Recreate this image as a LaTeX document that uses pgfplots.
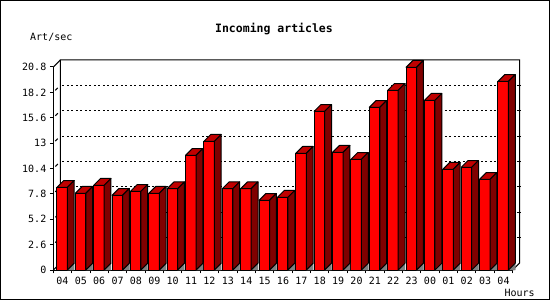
\documentclass[border=0pt]{standalone}
\usepackage{pgfplots}
\pgfplotsset{compat=1.18}
\usepackage{pgfplotstable}
\usepackage{fontspec}
\setmainfont{DejaVu Sans Mono}
\definecolor{barfront}{RGB}{255,0,0}
\definecolor{barside}{RGB}{128,0,0}
\definecolor{bartop}{RGB}{192,0,0}
\definecolor{floorgrey}{RGB}{128,128,128}

\pgfplotstableread{
x y
0 8.47
1 7.86
2 8.68
3 7.65
4 8.06
5 7.86
6 8.33
7 11.75
8 13.19
9 8.33
10 8.33
11 7.14
12 7.45
13 11.96
14 16.26
15 12.06
16 11.34
17 16.67
18 18.41
19 20.77
20 17.39
21 10.32
22 10.52
23 9.29
24 19.33
}\datatable

\begin{document}
\begin{tikzpicture}
\useasboundingbox (0,0) rectangle (550bp,300bp);
\begin{axis}[
  at={(53.3bp,30bp)}, anchor=south west,
  scale only axis, width=459.4bp, height=203bp,
  xmin=-0.5, xmax=24.5, ymin=0, ymax=20.8,
  clip=false,
  axis x line*=bottom, axis y line*=left,
  axis line style={line width=1bp},
  tick align=outside,
  major tick length=3.5bp,
  every tick/.style={black, line width=1bp},
  xtick={-0.5,0.5,...,24.5},
  x tick label as interval,
  xticklabels={04,05,06,07,08,09,10,11,12,13,14,15,16,17,18,19,20,21,22,23,00,01,02,03,04},
  ytick={0,2.6,5.2,7.8,10.4,13,15.6,18.2,20.8},
  yticklabels={0,2.6,5.2,7.8,10.4,13,15.6,18.2,20.8},
  tick label style={font=\fontsize{10bp}{12bp}\selectfont},
]
% back wall and side-wall edges
\coordinate (BL) at ([shift={(7bp,7bp)}]axis cs:-0.5,0);
\coordinate (TL) at ([shift={(7bp,7bp)}]axis cs:-0.5,20.8);
\coordinate (TR) at ([shift={(7bp,7bp)}]axis cs:24.5,20.8);
\coordinate (BR) at ([shift={(7bp,7bp)}]axis cs:24.5,0);
\pgfplotsinvokeforeach{2.6,5.2,7.8,10.4,13,15.6,18.2}{
  \draw[line width=1bp, dash pattern=on 2bp off 2.5bp] ([shift={(9bp,7bp)}]axis cs:-0.5,#1) -- ([shift={(7bp,7bp)}]axis cs:24.5,#1);
  \draw[line width=1bp] ([shift={(2bp,2bp)}]axis cs:-0.5,#1) -- ([shift={(4.5bp,4.5bp)}]axis cs:-0.5,#1);
  \draw[line width=1bp] ([shift={(5bp,7bp)}]axis cs:24.5,#1) -- ([shift={(8.5bp,7bp)}]axis cs:24.5,#1);
}
\draw[line width=1bp] (axis cs:-0.5,0) -- (BL) -- (TL) -- (TR) -- (BR) -- (axis cs:24.5,0);
\draw[line width=1bp] (axis cs:-0.5,20.8) -- (TL);

% front faces
\addplot[ybar, bar width=10.5bp, bar shift=-0.3bp, fill=barfront, draw=black, line width=1bp]
  table[x=x,y=y]{\datatable};

% top and side faces
\addplot[only marks, scatter, mark=text, text mark={},
  visualization depends on={rawy \as \v},
  scatter/@pre marker code/.code={%
    \pgfmathsetlengthmacro\h{\v*9.7596bp}%
    \fill[floorgrey] ({4.95bp},{-\h}) -- ({11.75bp},{-\h}) -- ({11.75bp},{6.8bp-\h}) -- cycle;
    \filldraw[fill=bartop, draw=black, line width=1bp, line join=round]
      (-5.55bp,0pt) -- (4.95bp,0pt) -- (11.75bp,6.8bp) -- (1.25bp,6.8bp) -- cycle;
    \filldraw[fill=barside, draw=black, line width=1bp, line join=round]
      (4.95bp,0pt) -- (11.75bp,6.8bp) -- ({11.75bp},{6.8bp-\h}) -- ({4.95bp},{-\h}) -- cycle;
  },
  scatter/@post marker code/.code={},
] table[x=x,y=y]{\datatable};
\end{axis}
\node[anchor=base, inner sep=0pt, font=\bfseries\fontsize{11.5bp}{13bp}\selectfont] at (274bp,267.7bp) {Incoming articles};
\node[anchor=base west, inner sep=0pt, font=\fontsize{10bp}{12bp}\selectfont] at (30bp,259bp) {Art/sec};
\node[anchor=base west, inner sep=0pt, font=\fontsize{10bp}{12bp}\selectfont] at (504.3bp,4bp) {Hours};
\draw[line width=1bp] (0.5bp,0.5bp) rectangle (549.5bp,299.5bp);
\end{tikzpicture}
\end{document}
